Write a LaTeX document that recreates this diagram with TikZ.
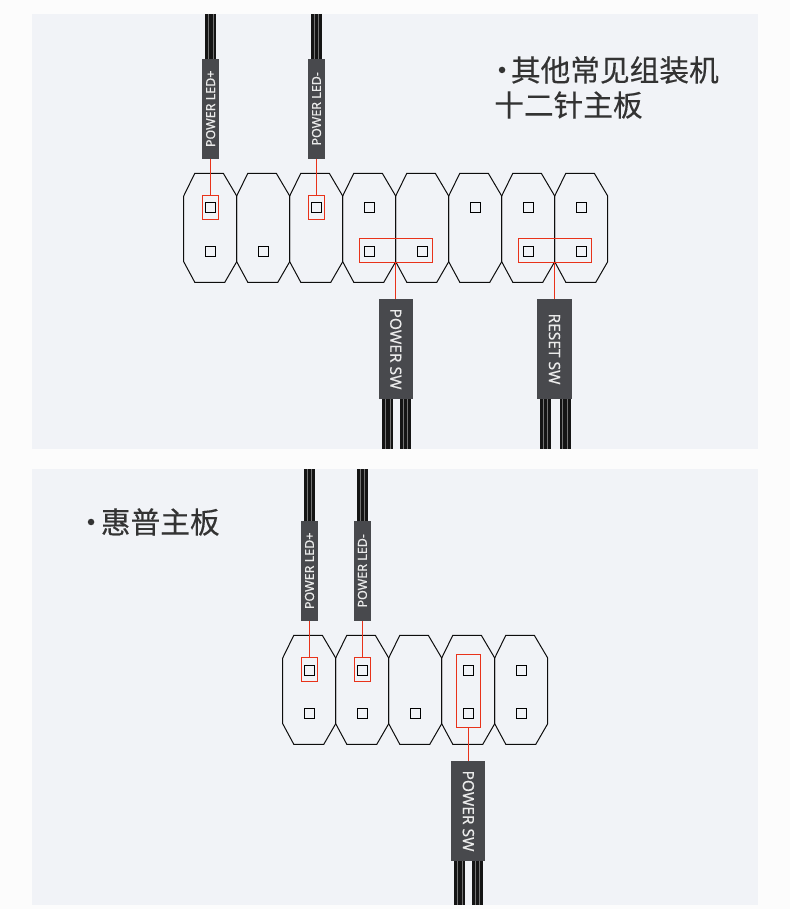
\documentclass[tikz,border=0pt]{standalone}
\usepackage{fontspec}
\setmainfont[RawFeature={embolden=0.25}]{Noto Sans}
\newfontfamily\cjk[RawFeature={embolden=0.3}]{Noto Sans CJK SC}
\definecolor{panelbg}{HTML}{F1F3F7}
\definecolor{plugbg}{HTML}{48494D}
\definecolor{pinred}{HTML}{E8321A}
\definecolor{headtext}{HTML}{333333}
\tikzset{
  shell/.style={draw=black!95,line width=1pt},
  pinbox/.style={draw=black,line width=1pt,minimum size=10pt,inner sep=0pt},
  redbox/.style={draw=pinred,line width=1pt,inner sep=0pt},
  redline/.style={draw=pinred,line width=1pt},
  plugup/.style={fill=plugbg,text=white!92!black,inner sep=0pt,minimum width=100pt,minimum height=16.5pt,rotate=90,font=\fontsize{12.5}{12.5}\selectfont},
  plugdn/.style={fill=plugbg,text=white!92!black,inner sep=0pt,minimum width=100pt,minimum height=34pt,rotate=-90,font=\fontsize{15.5}{15.5}\selectfont},
  wire/.style={draw=black!92,line width=11pt},
  wirelt/.style={draw=black!55,line width=0.9pt},
  headtxt/.style={anchor=west,inner sep=0pt,text=headtext,font=\cjk\fontsize{29.7}{29.7}\selectfont}
}
\newcommand{\hdrshell}[2]{
  \draw[shell] (#1-26.6,#2+22.7) -- (#1-15.5,#2) -- (#1+13,#2) -- (#1+26.4,#2+22.7) -- (#1+26.4,#2+88.4)
    -- (#1+14.5,#2+109) -- (#1-15.5,#2+109) -- (#1-26.6,#2+88.4) -- cycle;
}
\newcommand{\wirerun}[2]{
  \draw[wire] (#1) -- (#2);
  \foreach \d in {-2.4,2.4}
    \draw[wirelt] ([xshift=\d pt]#1) -- ([xshift=\d pt]#2);
}
\begin{document}
\begin{tikzpicture}[x=1pt,y=-1pt]
\useasboundingbox (0,0) rectangle (790,909);
\fill[white!99!black] (0,0) rectangle (790,909);
\fill[panelbg] (32,14) rectangle (758,449);
\fill[panelbg] (32,469) rectangle (758,905);

\node[headtxt] (headA) at (487,70) {·\kern-6pt 其他常见组装机};
\node[headtxt] (headB) at (494,105) {十二针主板};
\node[headtxt] (headC) at (76,522) {·\kern-5pt 惠普主板};

\foreach \n in {0,...,7} {
  \hdrshell{210.3+53*\n}{173.3}
}
\foreach \n in {0,...,4} {
  \hdrshell{309.3+53*\n}{635.3}
}

\foreach \n in {0,1,3,4,6,7}
  \node[pinbox] (ua\n) at (210.3+53*\n,251.3) {};
\foreach \n in {0,2,3,5,6,7}
  \node[pinbox] (ub\n) at (210.3+53*\n,208) {};
\foreach \n in {0,1,2,3,4}
  \node[pinbox] (la\n) at (309.3+53*\n,713.3) {};
\foreach \n in {0,1,3,4}
  \node[pinbox] (lb\n) at (309.3+53*\n,670) {};

\node[redbox,minimum width=16.4pt,minimum height=24pt] (boxA) at (210.6,207.3) {};
\node[redbox,minimum width=16.4pt,minimum height=24pt] (boxB) at (316.5,207.3) {};
\node[redbox,minimum width=73pt,minimum height=24pt] (boxC) at (395.8,250.3) {};
\node[redbox,minimum width=73.4pt,minimum height=24pt] (boxD) at (555,250.3) {};
\node[redbox,minimum width=16.4pt,minimum height=24pt] (boxE) at (309.5,669.3) {};
\node[redbox,minimum width=16.4pt,minimum height=24pt] (boxF) at (362.4,669.3) {};
\node[redbox,minimum width=24.4pt,minimum height=73pt] (boxG) at (468.4,690.8) {};

\node[plugup] (ledpA) at (210.6,108.8) {POWER LED+};
\node[plugup] (lednA) at (316.5,108.8) {POWER LED-};
\node[plugdn] (pwrA) at (395.8,349) {POWER SW};
\node[plugdn,minimum height=35pt] (rstA) at (554.5,349) {RESET SW};
\node[plugup] (ledpB) at (309.5,570.8) {POWER LED+};
\node[plugup] (lednB) at (362.4,570.8) {POWER LED-};
\node[plugdn] (pwrB) at (468.4,811) {POWER SW};

\draw[redline] (ledpA) -- (boxA);
\draw[redline] (lednA) -- (boxB);
\draw[redline] (pwrA) -- (boxC);
\draw[redline] (rstA) -- (rstA |- boxD.south);
\draw[redline] (ledpB) -- (boxE);
\draw[redline] (lednB) -- (boxF);
\draw[redline] (pwrB) -- (boxG);

\coordinate (ta) at (210.6,14);
\coordinate (tb) at (316.5,14);
\coordinate (tc) at (309.5,469);
\coordinate (td) at (362.4,469);
\wirerun{ta}{ledpA.east}
\wirerun{tb}{lednA.east}
\wirerun{tc}{ledpB.east}
\wirerun{td}{lednB.east}

\coordinate (pa1) at (387.8,399);
\coordinate (pa2) at (387.8,449);
\coordinate (pb1) at (405.5,399);
\coordinate (pb2) at (405.5,449);
\coordinate (ra1) at (545.5,399);
\coordinate (ra2) at (545.5,449);
\coordinate (rb1) at (565,399);
\coordinate (rb2) at (565,449);
\coordinate (qa1) at (459.8,861);
\coordinate (qa2) at (459.8,905);
\coordinate (qb1) at (477.5,861);
\coordinate (qb2) at (477.5,905);
\wirerun{pa1}{pa2}
\wirerun{pb1}{pb2}
\wirerun{ra1}{ra2}
\wirerun{rb1}{rb2}
\wirerun{qa1}{qa2}
\wirerun{qb1}{qb2}
\end{tikzpicture}
\end{document}
